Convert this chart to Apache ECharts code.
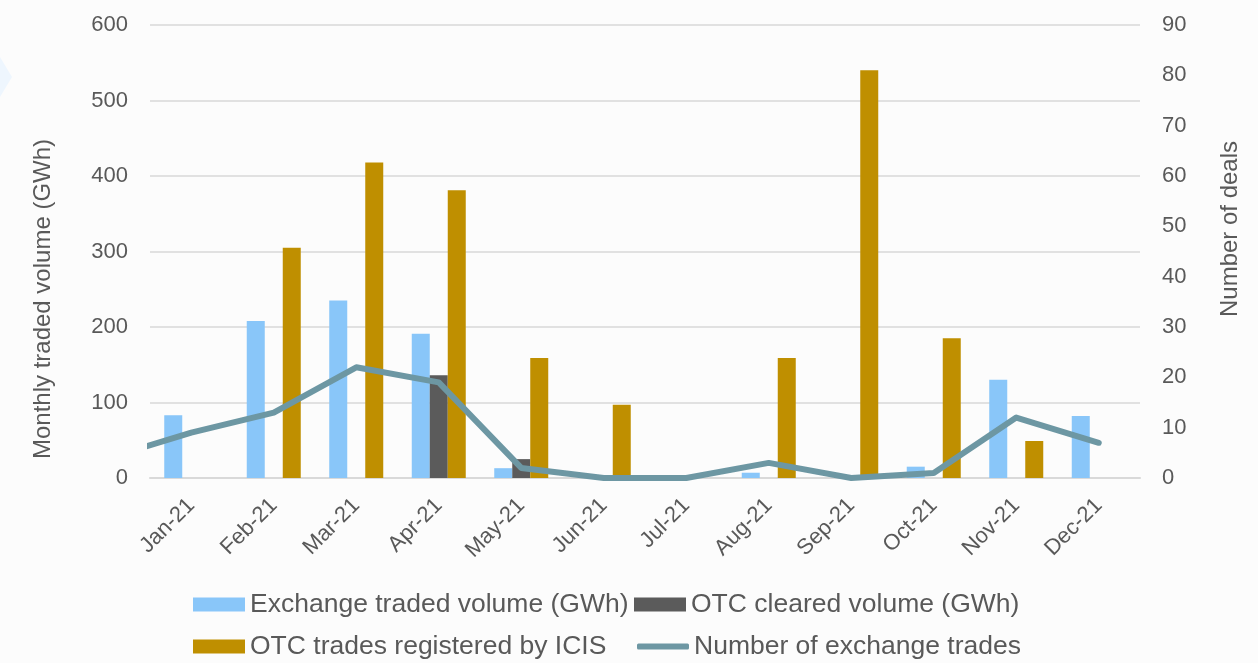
<!DOCTYPE html>
<html>
<head>
<meta charset="utf-8">
<script src="https://cdn.jsdelivr.net/npm/echarts@6/dist/echarts.min.js"></script>
<style>
html,body{margin:0;padding:0;background:#FCFCFC;}
#chart{width:1258px;height:663px;}
</style>
</head>
<body>
<div id="chart"></div>
<script>
// ---- data ----
var months = ['Jan-21','Feb-21','Mar-21','Apr-21','May-21','Jun-21','Jul-21','Aug-21','Sep-21','Oct-21','Nov-21','Dec-21'];
var exchangeVolume = [83, 208, 235, 191, 13, 0, 0, 7, 0, 15, 130, 82];
var otcClearedVolume = [0, 0, 0, 136, 25, 0, 0, 0, 0, 0, 0, 0];
var otcIcisVolume = [0, 305, 418, 381, 159, 97, 0, 159, 540, 185, 49, 0];
var exchangeTrades = [9, 13, 22, 19, 2, 0, 0, 3, 0, 1, 12, 7];
var prevMonthTrades = 4; // Dec-20, only visible as the clipped stub at the left edge
var leftTicks = [0, 600, 100];
var rightTicks = [0, 90, 10];

var FONT = '"Liberation Sans", Arial, sans-serif';
var TXT = '#595959';

// line points on a hidden numeric x-axis (category index), previous month at -1
var linePoints = [[-1, prevMonthTrades]].concat(exchangeTrades.map(function (v, i) { return [i, v]; }));

var chart = echarts.init(document.getElementById('chart'), null, {renderer: 'canvas'});

function legendAt(name, left, top, icon, h) {
  return {
    data: [{name: name, icon: icon}], left: left, top: top, padding: 0,
    itemWidth: 52, itemHeight: h, itemGap: 0,
    textStyle: {fontFamily: FONT, fontSize: 26.5, color: TXT}
  };
}

chart.setOption({
  backgroundColor: '#FCFCFC',
  animation: false,
  grid: {left: 150, right: 118, top: 25, bottom: 185, containLabel: false},
  legend: [
    legendAt('Exchange traded volume (GWh)', 193, 591, 'rect', 14),
    legendAt('OTC cleared volume (GWh)', 634, 591, 'rect', 14),
    legendAt('OTC trades registered by ICIS', 193, 633, 'rect', 14),
    legendAt('Number of exchange trades', 637, 633, 'roundRect', 6)
  ],
  xAxis: [{
    type: 'category', data: months, boundaryGap: true,
    axisLine: {lineStyle: {color: '#D9D9D9', width: 2}},
    axisTick: {show: false},
    axisLabel: {rotate: 45, margin: 24, fontFamily: FONT, fontSize: 22, color: TXT}
  }, {
    type: 'value', min: -0.5, max: months.length - 0.5, show: false
  }],
  yAxis: [{
    type: 'value', min: leftTicks[0], max: leftTicks[1], interval: leftTicks[2],
    axisLine: {show: false}, axisTick: {show: false},
    splitLine: {lineStyle: {color: '#D9D9D9', width: 1.5}},
    axisLabel: {margin: 22, fontFamily: FONT, fontSize: 22, color: TXT}
  }, {
    type: 'value', min: rightTicks[0], max: rightTicks[1], interval: rightTicks[2],
    position: 'right',
    axisLine: {show: false}, axisTick: {show: false}, splitLine: {show: false},
    axisLabel: {margin: 22, fontFamily: FONT, fontSize: 22, color: TXT}
  }],
  series: [{
    name: 'Exchange traded volume (GWh)', type: 'bar', data: exchangeVolume,
    barWidth: 18, barGap: '0%', itemStyle: {color: '#89C6F9'}
  }, {
    name: 'OTC cleared volume (GWh)', type: 'bar', data: otcClearedVolume,
    barWidth: 18, barGap: '0%', itemStyle: {color: '#5B5B5B'}
  }, {
    name: 'OTC trades registered by ICIS', type: 'bar', data: otcIcisVolume,
    barWidth: 18, barGap: '0%', itemStyle: {color: '#BF8F00'}
  }, {
    name: 'Number of exchange trades', type: 'line', data: linePoints,
    xAxisIndex: 1, yAxisIndex: 1, clip: true,
    symbol: 'none', showSymbol: false, smooth: false,
    lineStyle: {color: '#6D97A3', width: 6, cap: 'round', join: 'round'},
    itemStyle: {color: '#6D97A3'}
  }],
  graphic: [{
    type: 'polygon', left: 0, top: 57, silent: true,
    shape: {points: [[0, 0], [12, 20], [0, 40]]},
    style: {fill: '#EEF6FE'}
  }, {
    type: 'text', x: 43, y: 299, rotation: Math.PI / 2,
    style: {text: 'Monthly traded volume (GWh)', font: '24px ' + FONT, fill: TXT, align: 'center', verticalAlign: 'middle'}
  }, {
    type: 'text', x: 1230, y: 229, rotation: Math.PI / 2,
    style: {text: 'Number of deals', font: '24px ' + FONT, fill: TXT, align: 'center', verticalAlign: 'middle'}
  }]
});
</script>
</body>
</html>
